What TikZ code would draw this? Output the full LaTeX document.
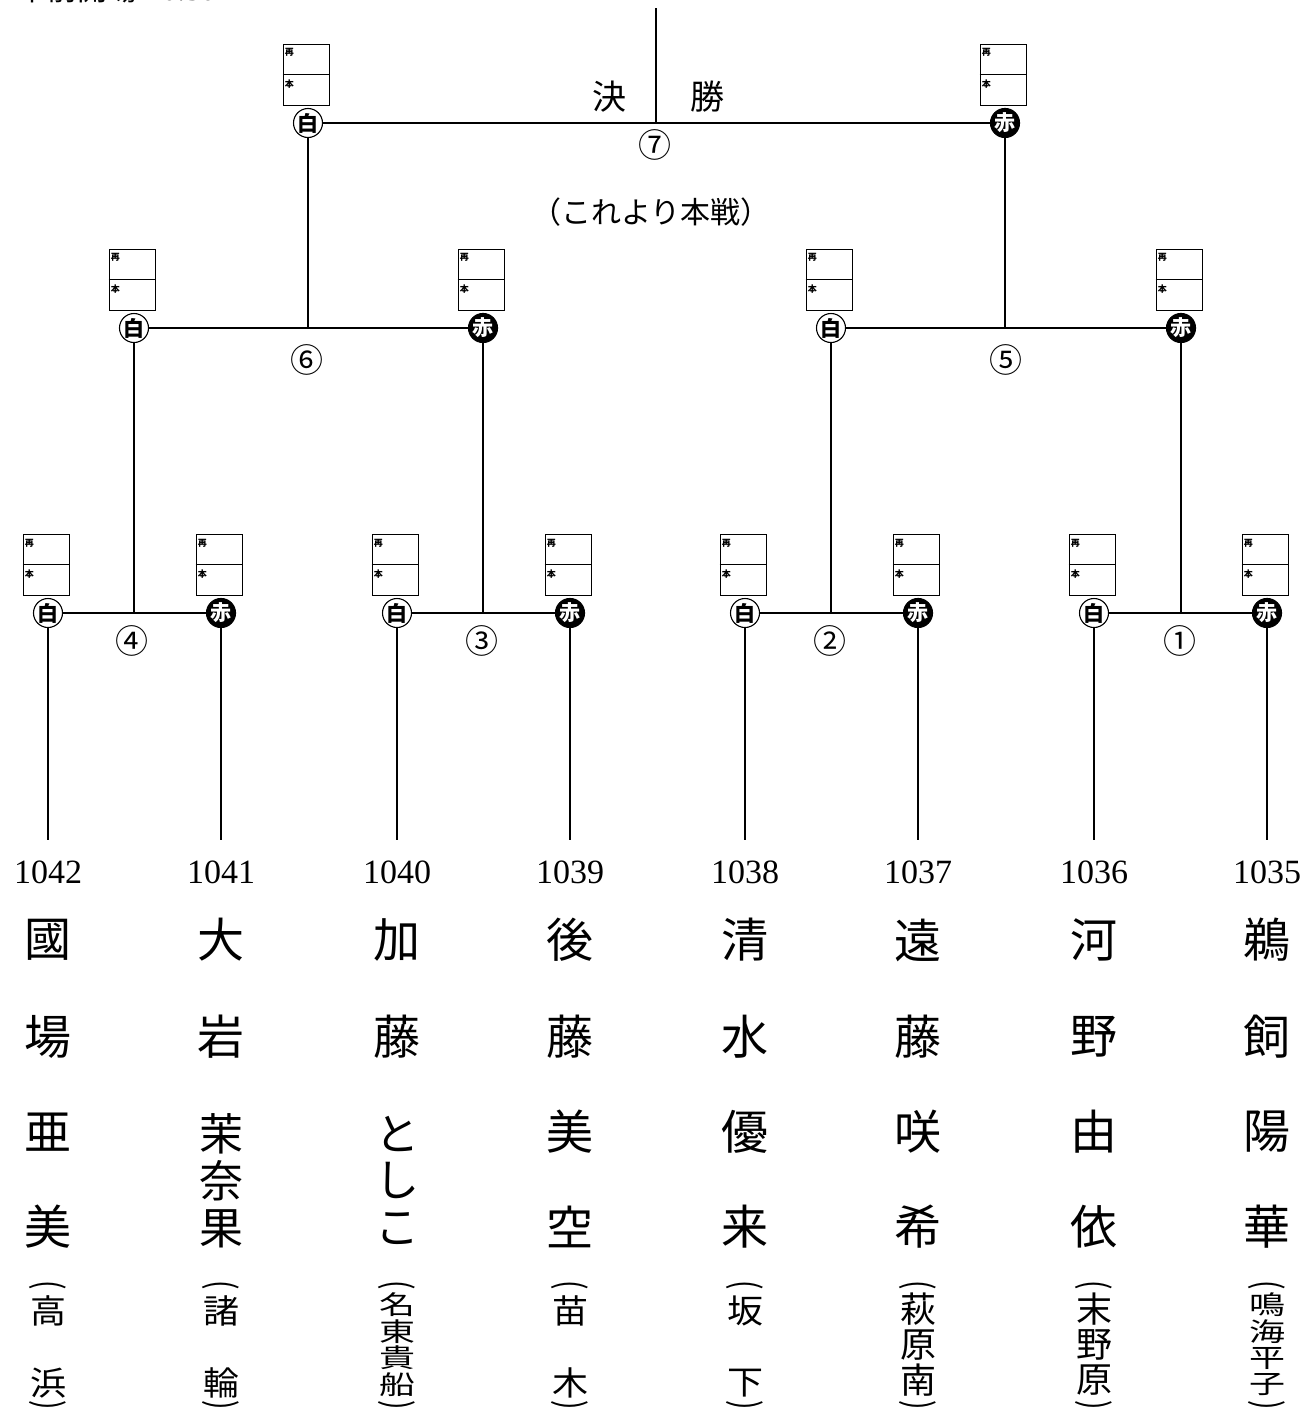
\documentclass[tikz,border=0pt]{standalone}
\usepackage{fontspec}
\usepackage{graphicx}
\usetikzlibrary{calc}
\setmainfont{Liberation Serif}
\newfontfamily\cjk{Noto Sans CJK JP}
\tikzset{
 conn/.style={line width=1.3pt},
 thinl/.style={line width=0.9pt},
 wc/.style={circle, draw=black, line width=1.1pt, fill=white, inner sep=0pt, minimum size=29pt, font=\cjk\bfseries\fontsize{21}{21}\selectfont},
 rc/.style={circle, draw=black, line width=1.1pt, fill=black, text=white, inner sep=0pt, minimum size=29pt, font=\cjk\bfseries\fontsize{21}{21}\selectfont},
 scbox/.style={draw, line width=0.9pt, minimum width=46pt, minimum height=61pt, inner sep=0pt},
 lbl/.style={inner sep=0pt, font=\cjk\bfseries\fontsize{9}{9}\selectfont},
 num/.style={inner sep=0pt, font=\rmfamily\fontsize{34}{34}\selectfont},
 big/.style={inner sep=0pt, font=\cjk\fontsize{47}{47}\selectfont},
 mid/.style={inner sep=0pt, font=\cjk\fontsize{44}{44}\selectfont},
 small/.style={inner sep=0pt, font=\cjk\fontsize{36}{36}\selectfont},
 parn/.style={inner sep=0pt, rotate=-90, font=\cjk\fontsize{28}{28}\selectfont},
 circnum/.style={inner sep=0pt, font=\cjk\fontsize{33}{33}\selectfont},
 title/.style={inner sep=0pt, font=\cjk\fontsize{34}{34}\selectfont},
}
\newcommand\entrant[5]{%
 \node[#4] (#1) at (#2,#3) {#5};
 \node[scbox] (#1b) at (#2-2,#3-48.5) {};
 \draw[thinl] (#1b.west) -- (#1b.east);
 \node[lbl, anchor=north west] (#1s) at ($(#1b.north west)+(2,5)$) {再};
 \node[lbl, anchor=north west] (#1h) at ($(#1b.west)+(2,5)$) {本};
}
\newcommand\ch[5]{\node[#1] (#2) at (#3,#4) {#5};}
\newcommand\sq[5]{\node[small] (#1) at (#2,#3) {\scalebox{1}[#4]{#5}};}
\newcommand\parens[2]{%
 \node[parn] (#1t) at (#2,1285) {\scalebox{1}[1.3]{(}};
 \node[parn] (#1e) at (#2,1405) {\scalebox{1}[1.3]{)}};
}
\begin{document}
\begin{tikzpicture}[x=1pt,y=-1pt]
\useasboundingbox (0,0) rectangle (1308,1416);
\fill[white] (0,0) rectangle (1308,1416);

% clipped header text
\node[anchor=base west, inner sep=0pt, font=\cjk\fontsize{30}{30}\selectfont] (hdr) at (17,1) {午前開場\hspace{10pt}{\rmfamily 10:30}};

% entrants: first round
\entrant{a4w}{48}{613}{wc}{白}
\entrant{a4r}{221}{613}{rc}{赤}
\entrant{a3w}{397}{613}{wc}{白}
\entrant{a3r}{570}{613}{rc}{赤}
\entrant{a2w}{745}{613}{wc}{白}
\entrant{a2r}{918}{613}{rc}{赤}
\entrant{a1w}{1094}{613}{wc}{白}
\entrant{a1r}{1267}{613}{rc}{赤}
% second round
\entrant{a6w}{134}{328}{wc}{白}
\entrant{a6r}{483}{328}{rc}{赤}
\entrant{a5w}{831}{328}{wc}{白}
\entrant{a5r}{1181}{328}{rc}{赤}
% final
\entrant{a7w}{308}{123}{wc}{白}
\entrant{a7r}{1005}{123}{rc}{赤}

% midpoints
\coordinate (m4) at (134,613);
\coordinate (m3) at (483,613);
\coordinate (m2) at (831,613);
\coordinate (m1) at (1181,613);
\coordinate (m6) at (308,328);
\coordinate (m5) at (1005,328);
\coordinate (m7) at (656,123);
\coordinate (t7) at (656,8);

% leaf ends
\coordinate (e1042) at (48,840);
\coordinate (e1041) at (221,840);
\coordinate (e1040) at (397,840);
\coordinate (e1039) at (570,840);
\coordinate (e1038) at (745,840);
\coordinate (e1037) at (918,840);
\coordinate (e1036) at (1094,840);
\coordinate (e1035) at (1267,840);

% connectors
\draw[conn] (a4w) -- (a4r);
\draw[conn] (a3w) -- (a3r);
\draw[conn] (a2w) -- (a2r);
\draw[conn] (a1w) -- (a1r);
\draw[conn] (a6w) -- (a6r);
\draw[conn] (a5w) -- (a5r);
\draw[conn] (a7w) -- (a7r);
\draw[conn] (m4) -- (a6w);
\draw[conn] (m3) -- (a6r);
\draw[conn] (m2) -- (a5w);
\draw[conn] (m1) -- (a5r);
\draw[conn] (m6) -- (a7w);
\draw[conn] (m5) -- (a7r);
\draw[conn] (m7) -- (t7);
\draw[conn] (a4w) -- (e1042);
\draw[conn] (a4r) -- (e1041);
\draw[conn] (a3w) -- (e1040);
\draw[conn] (a3r) -- (e1039);
\draw[conn] (a2w) -- (e1038);
\draw[conn] (a2r) -- (e1037);
\draw[conn] (a1w) -- (e1036);
\draw[conn] (a1r) -- (e1035);

% match numbers
\node[circnum] (c4) at (132,641) {④};
\node[circnum] (c3) at (482,641) {③};
\node[circnum] (c2) at (830,641) {②};
\node[circnum] (c1) at (1180,641) {①};
\node[circnum] (c6) at (307,360) {⑥};
\node[circnum] (c5) at (1006,360) {⑤};
\node[circnum] (c7) at (655,145) {⑦};
\node[title] (kets) at (609,97) {決};
\node[title] (shou) at (707,97) {勝};
\node[inner sep=0pt, font=\cjk\fontsize{30}{30}\selectfont] (honsen) at (651,212) {（これより本戦）};

% entry numbers
\node[num] (n1042) at (48,872) {1042};
\node[num] (n1041) at (221,872) {1041};
\node[num] (n1040) at (397,872) {1040};
\node[num] (n1039) at (570,872) {1039};
\node[num] (n1038) at (745,872) {1038};
\node[num] (n1037) at (918,872) {1037};
\node[num] (n1036) at (1094,872) {1036};
\node[num] (n1035) at (1267,872) {1035};

% names
\ch{big}{k1}{48}{940}{國}
\ch{big}{k2}{48}{1037}{場}
\ch{big}{k3}{48}{1132}{亜}
\ch{big}{k4}{48}{1227}{美}
\ch{big}{o1}{221}{940}{大}
\ch{big}{o2}{221}{1037}{岩}
\ch{mid}{o3}{221}{1134}{茉}
\ch{mid}{o4}{221}{1181}{奈}
\ch{mid}{o5}{221}{1229}{果}
\ch{big}{g1}{397}{940}{加}
\ch{big}{g2}{397}{1037}{藤}
\ch{mid}{g3}{397}{1134}{と}
\ch{mid}{g4}{397}{1180}{し}
\ch{mid}{g5}{397}{1229}{こ}
\ch{big}{b1}{570}{940}{後}
\ch{big}{b2}{570}{1037}{藤}
\ch{big}{b3}{570}{1132}{美}
\ch{big}{b4}{570}{1227}{空}
\ch{big}{s1}{745}{940}{清}
\ch{big}{s2}{745}{1037}{水}
\ch{big}{s3}{745}{1132}{優}
\ch{big}{s4}{745}{1227}{来}
\ch{big}{t1}{918}{940}{遠}
\ch{big}{t2}{918}{1037}{藤}
\ch{big}{t3}{918}{1132}{咲}
\ch{big}{t4}{918}{1227}{希}
\ch{big}{h1}{1094}{940}{河}
\ch{big}{h2}{1094}{1037}{野}
\ch{big}{h3}{1094}{1132}{由}
\ch{big}{h4}{1094}{1227}{依}
\ch{big}{u1}{1267}{940}{鵜}
\ch{big}{u2}{1267}{1037}{飼}
\ch{big}{u3}{1267}{1132}{陽}
\ch{big}{u4}{1267}{1227}{華}

% affiliations
\parens{pk}{48}
\sq{pk1}{48}{1311}{0.92}{高}
\sq{pk2}{48}{1383}{0.92}{浜}
\parens{po}{221}
\sq{po1}{221}{1311}{0.92}{諸}
\sq{po2}{221}{1383}{0.92}{輪}
\parens{pg}{397}
\sq{pg1}{397}{1305}{0.72}{名}
\sq{pg2}{397}{1332}{0.72}{東}
\sq{pg3}{397}{1358}{0.72}{貴}
\sq{pg4}{397}{1385}{0.72}{船}
\parens{pb}{570}
\sq{pb1}{570}{1311}{0.92}{苗}
\sq{pb2}{570}{1383}{0.92}{木}
\parens{ps}{745}
\sq{ps1}{745}{1311}{0.92}{坂}
\sq{ps2}{745}{1383}{0.92}{下}
\parens{pt}{918}
\sq{pt1}{918}{1309}{0.98}{萩}
\sq{pt2}{918}{1345}{0.98}{原}
\sq{pt3}{918}{1380}{0.98}{南}
\parens{ph}{1094}
\sq{ph1}{1094}{1309}{0.98}{末}
\sq{ph2}{1094}{1345}{0.98}{野}
\sq{ph3}{1094}{1380}{0.98}{原}
\parens{pu}{1267}
\sq{pu1}{1267}{1305}{0.72}{鳴}
\sq{pu2}{1267}{1332}{0.72}{海}
\sq{pu3}{1267}{1358}{0.72}{平}
\sq{pu4}{1267}{1385}{0.72}{子}
\end{tikzpicture}
\end{document}
